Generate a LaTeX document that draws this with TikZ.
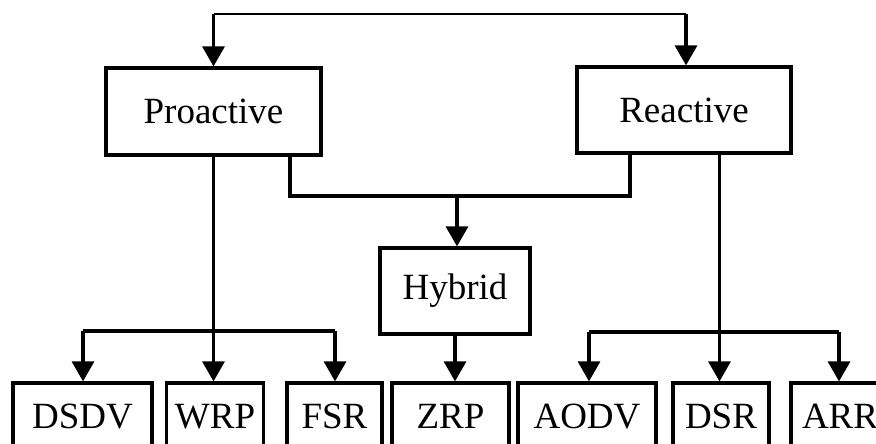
\documentclass[tikz,border=0pt]{standalone}
\usepackage{fontspec}
\setmainfont{Liberation Serif}
\usetikzlibrary{arrows.meta}
\begin{document}
\begin{tikzpicture}[x=1pt,y=-1pt,
  box/.style={draw=black,line width=3.2pt,fill=white,inner sep=0pt,align=center,
    font=\fontsize{37}{40}\selectfont},
  conn/.style={line width=3.2pt,draw=black},
  thinconn/.style={line width=1.6pt,draw=black},
  arrowc/.style={line width=3.2pt,draw=black,-{Triangle[width=22pt,length=20pt]}}]
\useasboundingbox (0,0) rectangle (876,444);
\clip (0,0) rectangle (876,444);
\fill[white] (0,0) rectangle (876,444);
% boxes
\node[box,minimum width=215pt,minimum height=87pt] (Proactive) at (213.5,111.5) {Proactive};
\node[box,minimum width=214pt,minimum height=86pt] (Reactive) at (684,110) {Reactive};
\node[box,minimum width=150pt,minimum height=86pt] (Hybrid) at (455,291) {Hybrid};
\node[box,minimum width=139pt,minimum height=67pt] (DSDV) at (82.5,416.5) {DSDV};
\node[box,minimum width=97pt,minimum height=67pt] (WRP) at (215,416.5) {WRP};
\node[box,minimum width=95pt,minimum height=67pt] (FSR) at (334.5,416.5) {FSR};
\node[box,minimum width=117pt,minimum height=67pt] (ZRP) at (450.5,416.5) {ZRP};
\node[box,minimum width=138pt,minimum height=67pt] (AODV) at (587,416.5) {AODV};
\node[box,minimum width=96pt,minimum height=67pt] (DSR) at (721,416.5) {DSR};
\node[box,minimum width=98pt,minimum height=67pt,text width=76pt,align=left] (ARR) at (840,416.5) {ARR};
% top connector
\coordinate (tL) at (213.5,14);
\coordinate (tR) at (686,14);
\draw[thinconn] (tL) -- (tR);
\draw[arrowc] (tL) -- (Proactive.north);
\draw[arrowc] (tR) -- (tR |- Reactive.north);
% proactive/reactive to hybrid
\coordinate (hJ) at (457,196);
\draw[conn] ([xshift=76.5pt]Proactive.south) |- (hJ) -| ([xshift=-54pt]Reactive.south);
\draw[arrowc] (hJ) -- (hJ |- Hybrid.north);
% hybrid to ZRP
\draw[arrowc] (Hybrid.south) -- (Hybrid.south |- ZRP.north);
% proactive children
\coordinate (pM) at (213.5,331);
\coordinate (pL) at (83,331);
\coordinate (pR) at (335,331);
\draw[arrowc] (Proactive.south) -- (pM |- WRP.north);
\draw[conn] (pL) -- (pR);
\draw[arrowc] (pL) -- (pL |- DSDV.north);
\draw[arrowc] (pR) -- (pR |- FSR.north);
% reactive children
\coordinate (rM) at (719.5,332);
\coordinate (rL) at (589,332);
\coordinate (rR) at (839,332);
\draw[arrowc] ([xshift=35.5pt]Reactive.south) -- (rM |- DSR.north);
\draw[conn] (rL) -- (rR);
\draw[arrowc] (rL) -- (rL |- AODV.north);
\draw[arrowc] (rR) -- (rR |- ARR.north);
\end{tikzpicture}
\end{document}
